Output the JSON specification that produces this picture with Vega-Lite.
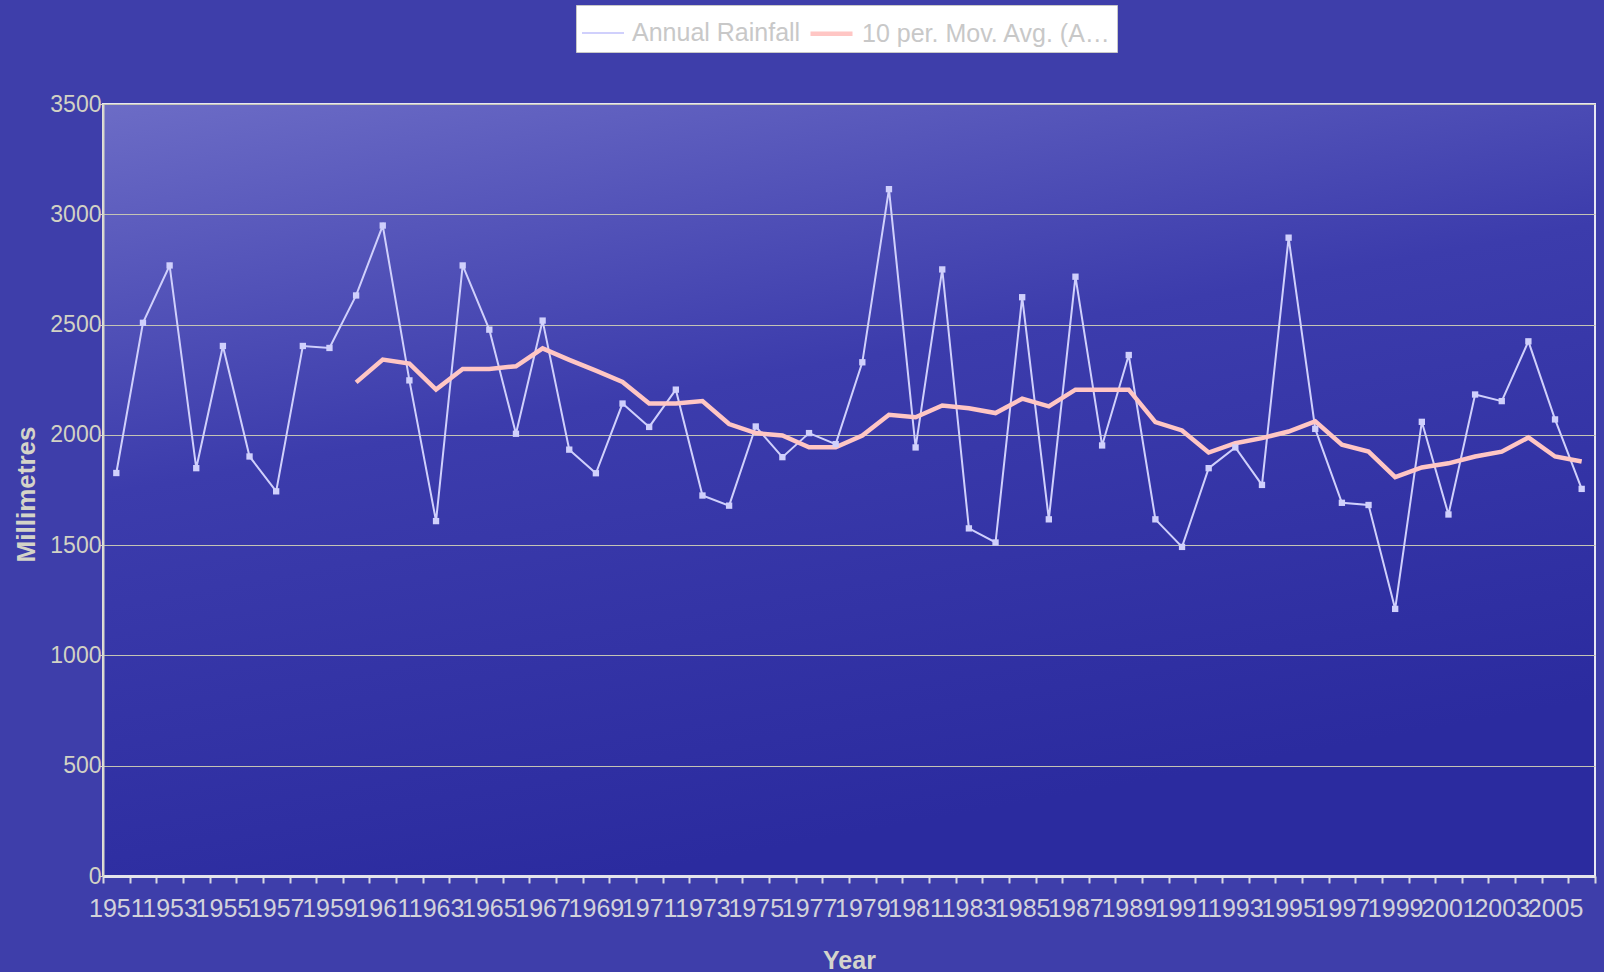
{
  "$schema": "https://vega.github.io/schema/vega-lite/v6.json",
  "autosize": {"type": "none"},
  "width": 1492,
  "height": 772,
  "padding": {"left": 103, "top": 104, "right": 9, "bottom": 96},
  "background": "#3e3eaa",
  "config": {
    "font": "Liberation Sans",
    "view": {
      "stroke": "#e6e6f4",
      "strokeWidth": 2,
      "fill": {
        "gradient": "linear",
        "x1": 0, "y1": 0, "x2": 0.35, "y2": 1,
        "stops": [
          {"offset": 0, "color": "#6c6cc6"},
          {"offset": 0.45, "color": "#3c3cac"},
          {"offset": 1, "color": "#2b2b9f"}
        ]
      }
    }
  },
  "datasets": {
    "rain": [
      {"Year": 1951, "Series": "Annual Rainfall", "Value": 1827},
      {"Year": 1952, "Series": "Annual Rainfall", "Value": 2508},
      {"Year": 1953, "Series": "Annual Rainfall", "Value": 2768},
      {"Year": 1954, "Series": "Annual Rainfall", "Value": 1849},
      {"Year": 1955, "Series": "Annual Rainfall", "Value": 2403},
      {"Year": 1956, "Series": "Annual Rainfall", "Value": 1902},
      {"Year": 1957, "Series": "Annual Rainfall", "Value": 1744},
      {"Year": 1958, "Series": "Annual Rainfall", "Value": 2403},
      {"Year": 1959, "Series": "Annual Rainfall", "Value": 2394},
      {"Year": 1960, "Series": "Annual Rainfall", "Value": 2632},
      {"Year": 1961, "Series": "Annual Rainfall", "Value": 2949},
      {"Year": 1962, "Series": "Annual Rainfall", "Value": 2247},
      {"Year": 1963, "Series": "Annual Rainfall", "Value": 1609},
      {"Year": 1964, "Series": "Annual Rainfall", "Value": 2768},
      {"Year": 1965, "Series": "Annual Rainfall", "Value": 2477},
      {"Year": 1966, "Series": "Annual Rainfall", "Value": 2005},
      {"Year": 1967, "Series": "Annual Rainfall", "Value": 2518},
      {"Year": 1968, "Series": "Annual Rainfall", "Value": 1933},
      {"Year": 1969, "Series": "Annual Rainfall", "Value": 1826},
      {"Year": 1970, "Series": "Annual Rainfall", "Value": 2142},
      {"Year": 1971, "Series": "Annual Rainfall", "Value": 2036},
      {"Year": 1972, "Series": "Annual Rainfall", "Value": 2205},
      {"Year": 1973, "Series": "Annual Rainfall", "Value": 1725},
      {"Year": 1974, "Series": "Annual Rainfall", "Value": 1679},
      {"Year": 1975, "Series": "Annual Rainfall", "Value": 2038},
      {"Year": 1976, "Series": "Annual Rainfall", "Value": 1899},
      {"Year": 1977, "Series": "Annual Rainfall", "Value": 2008},
      {"Year": 1978, "Series": "Annual Rainfall", "Value": 1958},
      {"Year": 1979, "Series": "Annual Rainfall", "Value": 2329},
      {"Year": 1980, "Series": "Annual Rainfall", "Value": 3114},
      {"Year": 1981, "Series": "Annual Rainfall", "Value": 1943},
      {"Year": 1982, "Series": "Annual Rainfall", "Value": 2750},
      {"Year": 1983, "Series": "Annual Rainfall", "Value": 1576},
      {"Year": 1984, "Series": "Annual Rainfall", "Value": 1512},
      {"Year": 1985, "Series": "Annual Rainfall", "Value": 2624},
      {"Year": 1986, "Series": "Annual Rainfall", "Value": 1617},
      {"Year": 1987, "Series": "Annual Rainfall", "Value": 2717},
      {"Year": 1988, "Series": "Annual Rainfall", "Value": 1952},
      {"Year": 1989, "Series": "Annual Rainfall", "Value": 2362},
      {"Year": 1990, "Series": "Annual Rainfall", "Value": 1617},
      {"Year": 1991, "Series": "Annual Rainfall", "Value": 1492},
      {"Year": 1992, "Series": "Annual Rainfall", "Value": 1849},
      {"Year": 1993, "Series": "Annual Rainfall", "Value": 1943},
      {"Year": 1994, "Series": "Annual Rainfall", "Value": 1773},
      {"Year": 1995, "Series": "Annual Rainfall", "Value": 2894},
      {"Year": 1996, "Series": "Annual Rainfall", "Value": 2027},
      {"Year": 1997, "Series": "Annual Rainfall", "Value": 1692},
      {"Year": 1998, "Series": "Annual Rainfall", "Value": 1682},
      {"Year": 1999, "Series": "Annual Rainfall", "Value": 1211},
      {"Year": 2000, "Series": "Annual Rainfall", "Value": 2059},
      {"Year": 2001, "Series": "Annual Rainfall", "Value": 1639},
      {"Year": 2002, "Series": "Annual Rainfall", "Value": 2183},
      {"Year": 2003, "Series": "Annual Rainfall", "Value": 2153},
      {"Year": 2004, "Series": "Annual Rainfall", "Value": 2424},
      {"Year": 2005, "Series": "Annual Rainfall", "Value": 2070},
      {"Year": 2006, "Series": "Annual Rainfall", "Value": 1755},
      {"Year": 1960, "Series": "10 per. Mov. Avg. (Annual Rainfall)", "Value": 2238},
      {"Year": 1961, "Series": "10 per. Mov. Avg. (Annual Rainfall)", "Value": 2341},
      {"Year": 1962, "Series": "10 per. Mov. Avg. (Annual Rainfall)", "Value": 2323},
      {"Year": 1963, "Series": "10 per. Mov. Avg. (Annual Rainfall)", "Value": 2205},
      {"Year": 1964, "Series": "10 per. Mov. Avg. (Annual Rainfall)", "Value": 2299},
      {"Year": 1965, "Series": "10 per. Mov. Avg. (Annual Rainfall)", "Value": 2299},
      {"Year": 1966, "Series": "10 per. Mov. Avg. (Annual Rainfall)", "Value": 2311},
      {"Year": 1967, "Series": "10 per. Mov. Avg. (Annual Rainfall)", "Value": 2392},
      {"Year": 1968, "Series": "10 per. Mov. Avg. (Annual Rainfall)", "Value": 2340},
      {"Year": 1969, "Series": "10 per. Mov. Avg. (Annual Rainfall)", "Value": 2291},
      {"Year": 1970, "Series": "10 per. Mov. Avg. (Annual Rainfall)", "Value": 2240},
      {"Year": 1971, "Series": "10 per. Mov. Avg. (Annual Rainfall)", "Value": 2142},
      {"Year": 1972, "Series": "10 per. Mov. Avg. (Annual Rainfall)", "Value": 2142},
      {"Year": 1973, "Series": "10 per. Mov. Avg. (Annual Rainfall)", "Value": 2153},
      {"Year": 1974, "Series": "10 per. Mov. Avg. (Annual Rainfall)", "Value": 2049},
      {"Year": 1975, "Series": "10 per. Mov. Avg. (Annual Rainfall)", "Value": 2008},
      {"Year": 1976, "Series": "10 per. Mov. Avg. (Annual Rainfall)", "Value": 1997},
      {"Year": 1977, "Series": "10 per. Mov. Avg. (Annual Rainfall)", "Value": 1944},
      {"Year": 1978, "Series": "10 per. Mov. Avg. (Annual Rainfall)", "Value": 1944},
      {"Year": 1979, "Series": "10 per. Mov. Avg. (Annual Rainfall)", "Value": 1997},
      {"Year": 1980, "Series": "10 per. Mov. Avg. (Annual Rainfall)", "Value": 2091},
      {"Year": 1981, "Series": "10 per. Mov. Avg. (Annual Rainfall)", "Value": 2080},
      {"Year": 1982, "Series": "10 per. Mov. Avg. (Annual Rainfall)", "Value": 2133},
      {"Year": 1983, "Series": "10 per. Mov. Avg. (Annual Rainfall)", "Value": 2121},
      {"Year": 1984, "Series": "10 per. Mov. Avg. (Annual Rainfall)", "Value": 2099},
      {"Year": 1985, "Series": "10 per. Mov. Avg. (Annual Rainfall)", "Value": 2164},
      {"Year": 1986, "Series": "10 per. Mov. Avg. (Annual Rainfall)", "Value": 2129},
      {"Year": 1987, "Series": "10 per. Mov. Avg. (Annual Rainfall)", "Value": 2205},
      {"Year": 1988, "Series": "10 per. Mov. Avg. (Annual Rainfall)", "Value": 2205},
      {"Year": 1989, "Series": "10 per. Mov. Avg. (Annual Rainfall)", "Value": 2205},
      {"Year": 1990, "Series": "10 per. Mov. Avg. (Annual Rainfall)", "Value": 2058},
      {"Year": 1991, "Series": "10 per. Mov. Avg. (Annual Rainfall)", "Value": 2020},
      {"Year": 1992, "Series": "10 per. Mov. Avg. (Annual Rainfall)", "Value": 1920},
      {"Year": 1993, "Series": "10 per. Mov. Avg. (Annual Rainfall)", "Value": 1962},
      {"Year": 1994, "Series": "10 per. Mov. Avg. (Annual Rainfall)", "Value": 1985},
      {"Year": 1995, "Series": "10 per. Mov. Avg. (Annual Rainfall)", "Value": 2015},
      {"Year": 1996, "Series": "10 per. Mov. Avg. (Annual Rainfall)", "Value": 2061},
      {"Year": 1997, "Series": "10 per. Mov. Avg. (Annual Rainfall)", "Value": 1955},
      {"Year": 1998, "Series": "10 per. Mov. Avg. (Annual Rainfall)", "Value": 1924},
      {"Year": 1999, "Series": "10 per. Mov. Avg. (Annual Rainfall)", "Value": 1808},
      {"Year": 2000, "Series": "10 per. Mov. Avg. (Annual Rainfall)", "Value": 1852},
      {"Year": 2001, "Series": "10 per. Mov. Avg. (Annual Rainfall)", "Value": 1871},
      {"Year": 2002, "Series": "10 per. Mov. Avg. (Annual Rainfall)", "Value": 1902},
      {"Year": 2003, "Series": "10 per. Mov. Avg. (Annual Rainfall)", "Value": 1924},
      {"Year": 2004, "Series": "10 per. Mov. Avg. (Annual Rainfall)", "Value": 1988},
      {"Year": 2005, "Series": "10 per. Mov. Avg. (Annual Rainfall)", "Value": 1902},
      {"Year": 2006, "Series": "10 per. Mov. Avg. (Annual Rainfall)", "Value": 1879}
    ]
  },
  "data": {"name": "rain"},
  "encoding": {
    "x": {
      "field": "Year",
      "type": "ordinal",
      "bandPosition": 0.5,
      "scale": {"type": "band", "paddingInner": 0, "paddingOuter": 0},
      "axis": {
        "title": "Year",
        "labelExpr": "datum.value % 2 == 1 ? datum.label : ''",
        "labelOverlap": false,
        "labelAngle": 0,
        "labelFontSize": 25,
        "labelColor": "#d2d2da",
        "labelPadding": 13,
        "tickBand": "extent",
        "tickSize": 7,
        "tickWidth": 2,
        "tickColor": "#d8d8e0",
        "domainColor": "#e4e4ec",
        "domainWidth": 3,
        "grid": false,
        "titleFontSize": 25,
        "titleFontWeight": "bold",
        "titleColor": "#d4d4cc",
        "titleBaseline": "alphabetic",
        "titleY": 92
      }
    },
    "y": {
      "field": "Value",
      "type": "quantitative",
      "scale": {"domain": [0, 3500], "nice": false},
      "axis": {
        "title": "Millimetres",
        "values": [0, 500, 1000, 1500, 2000, 2500, 3000, 3500],
        "format": "d",
        "grid": true,
        "gridColor": "#c4c4b4",
        "gridWidth": 1.2,
        "domainColor": "#d8d8c8",
        "domainWidth": 2,
        "tickSize": 4,
        "tickColor": "#d8d8c8",
        "labelPadding": -2,
        "labelFontSize": 23,
        "labelColor": "#d2d2c4",
        "titleFontSize": 26,
        "titleFontWeight": "bold",
        "titleColor": "#d4d4c8",
        "titleX": -77,
        "titleY": 390,
        "titleBaseline": "middle",
        "titleAlign": "center",
        "titleAngle": 270
      }
    }
  },
  "layer": [
    {
      "mark": {"type": "line", "strokeJoin": "miter"},
      "encoding": {
        "color": {
          "field": "Series",
          "type": "nominal",
          "scale": {
            "domain": ["Annual Rainfall", "10 per. Mov. Avg. (Annual Rainfall)"],
            "range": ["#d0d0fc", "#ffc6c4"]
          },
          "legend": {
            "title": null,
            "orient": "none",
            "legendX": 473,
            "legendY": -99,
            "direction": "horizontal",
            "fillColor": "#ffffff",
            "strokeColor": "#c8c8c8",
            "padding": 5,
            "symbolType": "stroke",
            "symbolSize": 1764,
            "symbolStrokeWidth": 3.5,
            "labelFontSize": 25,
            "labelColor": "#c8c8c8",
            "labelOffset": 7,
            "labelLimit": 262,
            "columnPadding": 0
          }
        },
        "strokeWidth": {
          "field": "Series",
          "type": "nominal",
          "scale": {
            "domain": ["Annual Rainfall", "10 per. Mov. Avg. (Annual Rainfall)"],
            "range": [2, 4.5]
          },
          "legend": null
        }
      }
    },
    {
      "transform": [{"filter": "datum.Series == 'Annual Rainfall'"}],
      "mark": {"type": "point", "shape": "square", "filled": true, "size": 40, "opacity": 1, "color": "#d0d0fc"}
    }
  ]
}
